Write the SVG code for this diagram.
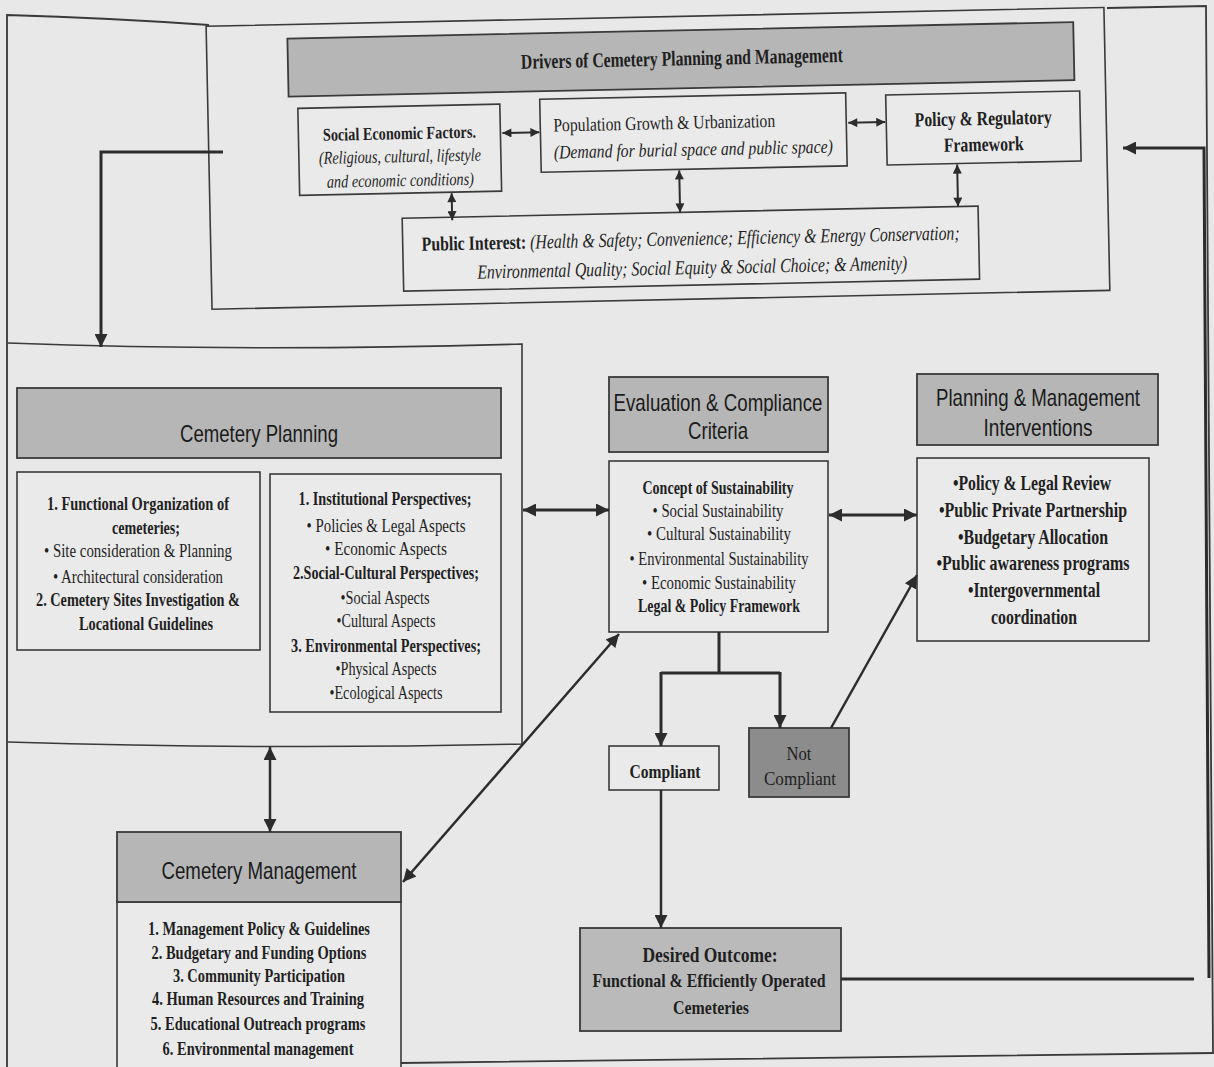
<svg xmlns="http://www.w3.org/2000/svg" width="1214" height="1067" viewBox="0 0 1214 1067">
<defs>
<style>
.bx{fill:#eaeaea;stroke:#3a3a3a;stroke-width:1.6}
.hd{fill:#b6b6b6;stroke:#3a3a3a;stroke-width:1.8}
.t{font-family:"Liberation Serif",serif;fill:#1f1f1f;text-anchor:middle;dominant-baseline:central;font-size:19px}
.b{font-weight:bold}
.i{font-style:italic}
.s{font-family:"Liberation Sans",sans-serif;font-size:24px;fill:#1a1a1a}
.c{fill:none;stroke:#2c2c2c;stroke-width:3}
.cs{fill:none;stroke:#2c2c2c;stroke-width:2}
.fr{fill:none;stroke:#3a3a3a;stroke-width:1.8}
</style>
<marker id="ab" viewBox="0 0 10 10" refX="10" refY="5" markerUnits="userSpaceOnUse" markerWidth="16" markerHeight="13" orient="auto-start-reverse"><path d="M0,0 L10,5 L0,10 Z" fill="#2c2c2c"/></marker>
<marker id="as" viewBox="0 0 10 10" refX="10" refY="5" markerUnits="userSpaceOnUse" markerWidth="11" markerHeight="9" orient="auto-start-reverse"><path d="M0,0 L10,5 L0,10 Z" fill="#2c2c2c"/></marker>
</defs>
<rect x="0" y="0" width="1214" height="1067" fill="#e8e8e8"/>

<!-- page frame -->
<path class="fr" d="M7,1067 V15 Q110,18 209,25 M1107,8 L1206,6 L1213,1053 M401,1063 L1214,1053"/>

<!-- Drivers group (slightly rotated like the scan) -->
<g id="drivers" transform="rotate(-1.2 650 160)">
  <rect class="bx" x="209" y="17" width="898" height="283" style="fill:none"/>
  <g id="drivers-header">
    <rect class="hd" x="290" y="31" width="786" height="58"/>
    <text class="t b" x="684" y="59" style="font-size:21px" textLength="322" lengthAdjust="spacingAndGlyphs">Drivers of Cemetery Planning and Management</text>
  </g>
  <g id="social-economic">
    <rect class="bx" x="299" y="101" width="202" height="87"/>
    <text class="t b" x="400" y="128" style="font-size:18px" textLength="153" lengthAdjust="spacingAndGlyphs">Social Economic Factors.</text>
    <text class="t i" x="400" y="151" style="font-size:18px" textLength="162" lengthAdjust="spacingAndGlyphs">(Religious, cultural, lifestyle</text>
    <text class="t i" x="400" y="175" style="font-size:18px" textLength="147" lengthAdjust="spacingAndGlyphs">and economic conditions)</text>
  </g>
  <g id="population">
    <rect class="bx" x="541" y="97" width="306" height="73"/>
    <text class="t" x="554" y="123" style="text-anchor:start" textLength="222" lengthAdjust="spacingAndGlyphs">Population Growth &amp; Urbanization</text>
    <text class="t i" x="554" y="150" style="text-anchor:start" textLength="279" lengthAdjust="spacingAndGlyphs">(Demand for burial space and public space)</text>
  </g>
  <g id="policy-regulatory">
    <rect class="bx" x="887" y="100" width="194" height="70"/>
    <text class="t b" x="984" y="125" style="font-size:20px" textLength="137" lengthAdjust="spacingAndGlyphs">Policy &amp; Regulatory</text>
    <text class="t b" x="984" y="151" style="font-size:20px" textLength="80" lengthAdjust="spacingAndGlyphs">Framework</text>
  </g>
  <g id="public-interest">
    <rect class="bx" x="401" y="213" width="576" height="73"/>
    <text class="t" x="689" y="239" style="font-size:20px" textLength="538" lengthAdjust="spacingAndGlyphs"><tspan class="b">Public Interest:</tspan><tspan class="i"> (Health &amp; Safety; Convenience; Efficiency &amp; Energy Conservation;</tspan></text>
    <text class="t i" x="690" y="268" style="font-size:20px" textLength="430" lengthAdjust="spacingAndGlyphs">Environmental Quality; Social Equity &amp; Social Choice; &amp; Amenity)</text>
  </g>
  <g id="drivers-connectors">
    <path class="cs" d="M503,130 H540" marker-start="url(#as)" marker-end="url(#as)"/>
    <path class="cs" d="M849,127 H886" marker-start="url(#as)" marker-end="url(#as)"/>
    <path class="cs" d="M451,189 V216" marker-start="url(#as)" marker-end="url(#as)"/>
    <path class="cs" d="M679,171 V213" marker-start="url(#as)" marker-end="url(#as)"/>
    <path class="cs" d="M957,171 V213" marker-start="url(#as)" marker-end="url(#as)"/>
  </g>
</g>

<!-- Cemetery Planning -->
<g id="cemetery-planning">
  <path class="bx" style="fill:none" d="M8,343 Q250,352 522,344 V744 Q270,750 8,742"/>
  <rect class="hd" x="17" y="388" width="484" height="70"/>
  <text class="t s" x="259" y="433" textLength="158" lengthAdjust="spacingAndGlyphs">Cemetery Planning</text>
</g>
<g id="planning-functional">
  <rect class="bx" x="17" y="472" width="243" height="178"/>
  <text class="t b" x="138" y="503" textLength="182" lengthAdjust="spacingAndGlyphs">1. Functional Organization of</text>
  <text class="t b" x="146" y="527" textLength="68" lengthAdjust="spacingAndGlyphs">cemeteries;</text>
  <text class="t" x="138" y="550" textLength="188" lengthAdjust="spacingAndGlyphs">•  Site consideration &amp; Planning</text>
  <text class="t" x="138" y="576" textLength="170" lengthAdjust="spacingAndGlyphs">•  Architectural consideration</text>
  <text class="t b" x="138" y="599" textLength="204" lengthAdjust="spacingAndGlyphs">2. Cemetery Sites Investigation &amp;</text>
  <text class="t b" x="146" y="623" textLength="134" lengthAdjust="spacingAndGlyphs">Locational Guidelines</text>
</g>
<g id="planning-perspectives">
  <rect class="bx" x="270" y="474" width="231" height="238"/>
  <text class="t b" x="385" y="498" textLength="173" lengthAdjust="spacingAndGlyphs">1. Institutional Perspectives;</text>
  <text class="t" x="386" y="525" textLength="159" lengthAdjust="spacingAndGlyphs">•  Policies &amp; Legal Aspects</text>
  <text class="t" x="386" y="548" textLength="122" lengthAdjust="spacingAndGlyphs">•  Economic Aspects</text>
  <text class="t b" x="386" y="572" textLength="186" lengthAdjust="spacingAndGlyphs">2.Social-Cultural Perspectives;</text>
  <text class="t" x="385" y="597" textLength="89" lengthAdjust="spacingAndGlyphs">•Social Aspects</text>
  <text class="t" x="386" y="620" textLength="99" lengthAdjust="spacingAndGlyphs">•Cultural Aspects</text>
  <text class="t b" x="386" y="645" textLength="190" lengthAdjust="spacingAndGlyphs">3. Environmental Perspectives;</text>
  <text class="t" x="386" y="668" textLength="101" lengthAdjust="spacingAndGlyphs">•Physical Aspects</text>
  <text class="t" x="386" y="692" textLength="113" lengthAdjust="spacingAndGlyphs">•Ecological Aspects</text>
</g>

<!-- Evaluation -->
<g id="evaluation">
  <rect class="hd" x="609" y="377" width="219" height="75"/>
  <text class="t s" x="718" y="402" textLength="209" lengthAdjust="spacingAndGlyphs">Evaluation &amp; Compliance</text>
  <text class="t s" x="718" y="430" textLength="60" lengthAdjust="spacingAndGlyphs">Criteria</text>
  <rect class="bx" x="609" y="461" width="219" height="171"/>
  <text class="t b" x="718" y="487" textLength="151" lengthAdjust="spacingAndGlyphs">Concept of Sustainability</text>
  <text class="t" x="718" y="510" textLength="131" lengthAdjust="spacingAndGlyphs">•  Social Sustainability</text>
  <text class="t" x="719" y="533" textLength="144" lengthAdjust="spacingAndGlyphs">•  Cultural Sustainability</text>
  <text class="t" x="719" y="558" textLength="179" lengthAdjust="spacingAndGlyphs">•  Environmental Sustainability</text>
  <text class="t" x="719" y="582" textLength="154" lengthAdjust="spacingAndGlyphs">•  Economic Sustainability</text>
  <text class="t b" x="719" y="605" textLength="162" lengthAdjust="spacingAndGlyphs">Legal &amp; Policy Framework</text>
</g>

<!-- Interventions -->
<g id="interventions">
  <rect class="hd" x="917" y="374" width="241" height="71"/>
  <text class="t s" x="1038" y="397" textLength="204" lengthAdjust="spacingAndGlyphs">Planning &amp; Management</text>
  <text class="t s" x="1038" y="427" textLength="109" lengthAdjust="spacingAndGlyphs">Interventions</text>
  <rect class="bx" x="917" y="458" width="232" height="183"/>
  <text class="t b" x="1032" y="483" style="font-size:21px" textLength="158" lengthAdjust="spacingAndGlyphs">•Policy &amp; Legal Review</text>
  <text class="t b" x="1033" y="510" style="font-size:21px" textLength="188" lengthAdjust="spacingAndGlyphs">•Public Private Partnership</text>
  <text class="t b" x="1033" y="537" style="font-size:21px" textLength="150" lengthAdjust="spacingAndGlyphs">•Budgetary Allocation</text>
  <text class="t b" x="1033" y="563" style="font-size:21px" textLength="193" lengthAdjust="spacingAndGlyphs">•Public awareness programs</text>
  <text class="t b" x="1034" y="590" style="font-size:21px" textLength="132" lengthAdjust="spacingAndGlyphs">•Intergovernmental</text>
  <text class="t b" x="1034" y="617" style="font-size:21px" textLength="86" lengthAdjust="spacingAndGlyphs">coordination</text>
</g>

<!-- Compliant / Not compliant -->
<g id="compliant">
  <rect class="bx" x="609" y="746" width="110" height="44"/>
  <text class="t b" x="665" y="771" textLength="71" lengthAdjust="spacingAndGlyphs">Compliant</text>
</g>
<g id="not-compliant">
  <rect class="hd" x="749" y="728" width="100" height="69" style="fill:#8c8c8c"/>
  <text class="t" x="799" y="753" textLength="25" lengthAdjust="spacingAndGlyphs">Not</text>
  <text class="t" x="800" y="778" textLength="72" lengthAdjust="spacingAndGlyphs">Compliant</text>
</g>

<!-- Desired outcome -->
<g id="desired-outcome">
  <rect class="hd" x="580" y="928" width="261" height="103" style="fill:#bababa"/>
  <text class="t b" x="710" y="955" style="font-size:20px" textLength="135" lengthAdjust="spacingAndGlyphs">Desired Outcome:</text>
  <text class="t b" x="709" y="980" textLength="233" lengthAdjust="spacingAndGlyphs">Functional &amp; Efficiently Operated</text>
  <text class="t b" x="711" y="1007" textLength="76" lengthAdjust="spacingAndGlyphs">Cemeteries</text>
</g>

<!-- Cemetery Management -->
<g id="cemetery-management">
  <rect class="bx" x="117" y="902" width="284" height="175"/>
  <rect class="hd" x="117" y="832" width="284" height="70"/>
  <text class="t s" x="259" y="870" textLength="195" lengthAdjust="spacingAndGlyphs">Cemetery Management</text>
  <text class="t b" x="259" y="928" textLength="222" lengthAdjust="spacingAndGlyphs">1. Management Policy &amp; Guidelines</text>
  <text class="t b" x="259" y="952" textLength="215" lengthAdjust="spacingAndGlyphs">2. Budgetary and Funding Options</text>
  <text class="t b" x="259" y="975" textLength="172" lengthAdjust="spacingAndGlyphs">3. Community Participation</text>
  <text class="t b" x="258" y="998" textLength="212" lengthAdjust="spacingAndGlyphs">4. Human Resources and Training</text>
  <text class="t b" x="258" y="1023" textLength="215" lengthAdjust="spacingAndGlyphs">5. Educational Outreach programs</text>
  <text class="t b" x="258" y="1048" textLength="191" lengthAdjust="spacingAndGlyphs">6. Environmental management</text>
</g>

<!-- connectors -->
<g id="connectors">
  <path class="c" d="M223,152 H101 V347" marker-end="url(#ab)"/>
  <path class="c" d="M523,510 H609" marker-start="url(#ab)" marker-end="url(#ab)"/>
  <path class="c" d="M829,515 H917" marker-start="url(#ab)" marker-end="url(#ab)"/>
  <path class="cs" style="stroke-width:2.5" d="M270,747 V832" marker-start="url(#ab)" marker-end="url(#ab)"/>
  <path class="c" style="stroke-width:2.5" d="M403,882 L619,634" marker-start="url(#ab)" marker-end="url(#ab)"/>
  <path class="c" d="M719,632 V673 M661,673 H780"/>
  <path class="c" d="M661,672 V746" marker-end="url(#ab)"/>
  <path class="c" d="M780,672 V728" marker-end="url(#ab)"/>
  <path class="c" style="stroke-width:2.5" d="M661,790 V928" marker-end="url(#ab)"/>
  <path class="c" style="stroke-width:2.5" d="M831,728 L917,575" marker-end="url(#ab)"/>
  <path class="c" d="M841,979 H1194"/>
  <path class="c" d="M1209,978 L1204,148 H1123" marker-end="url(#ab)"/>
</g>
</svg>
